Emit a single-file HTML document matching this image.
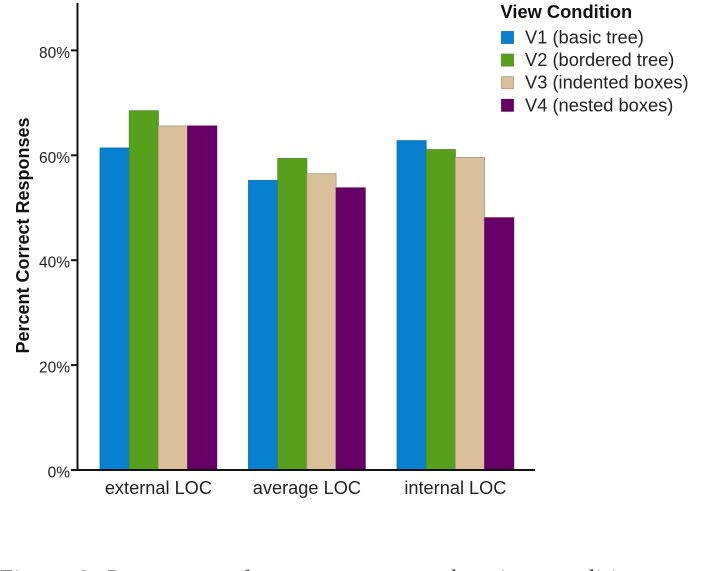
<!DOCTYPE html>
<html lang="en">
<head>
<meta charset="utf-8">
<title>Percent Correct Responses by View Condition</title>
<style>
html,body{margin:0;padding:0;background:#fff;width:707px;height:571px;overflow:hidden}
svg{display:block;font-family:"Liberation Sans",Arial,sans-serif}
</style>
</head>
<body>
<svg id="chart" xmlns="http://www.w3.org/2000/svg" width="707" height="571" viewBox="0 0 707 571">
  <rect width="707" height="571" fill="#fff"/>
  <g id="bars"></g>
  <g id="axes"></g>
  <text transform="translate(29,235.5) rotate(-90)" text-anchor="middle" font-size="18" font-weight="bold" fill="#111">Percent Correct Responses</text>
  <g id="legend"></g>
  <g font-family="'Liberation Serif',serif" font-size="23" fill="#222">
    <text x="0" y="586" word-spacing="4" letter-spacing="1">Figure 6: Percentage of correct responses by view condition</text>
  </g>
</svg>
<script>
const categories = ['external LOC', 'average LOC', 'internal LOC'];
const seriesNames = ['V1 (basic tree)', 'V2 (bordered tree)', 'V3 (indented boxes)', 'V4 (nested boxes)'];
const v1Values = [61.4, 55.2, 62.8];
const v2Values = [68.5, 59.4, 61.1];
const v3Values = [65.6, 56.5, 59.6];
const v4Values = [65.6, 53.8, 48.1];
const yTicks = [0, 20, 40, 60, 80];
const legendTitle = 'View Condition';

const seriesValues = [v1Values, v2Values, v3Values, v4Values];
const fills = ['#0680cf', '#57a01c', '#d9c09b', '#660066'];
const strokes = ['#0b6fb0', '#4f8a24', '#a89a80', '#5a0a5a'];
const NS = 'http://www.w3.org/2000/svg';

function yScale(v) { return 470 - v * 5.245; }
function groupX(i) { return 100 + i * 148.5; }
function barX(i, s) { return groupX(i) + s * 29.2; }

function make(tag, attrs, parent, text) {
  const el = document.createElementNS(NS, tag);
  for (const k in attrs) el.setAttribute(k, attrs[k]);
  if (text !== undefined) el.textContent = text;
  parent.appendChild(el);
  return el;
}

const barsG = document.getElementById('bars');
const axesG = document.getElementById('axes');
const legendG = document.getElementById('legend');

seriesValues.forEach(function (vals, s) {
  vals.forEach(function (v, i) {
    const top = yScale(v);
    const bar = make('rect', {
      x: barX(i, s), y: top, width: 29.2, height: yScale(0) - top,
      fill: fills[s], stroke: strokes[s], 'stroke-width': 0.8
    }, barsG);
    
    
  });
});

const yAxis = make('line', { x1: 77.5, x2: 77.5, y1: 3, y2: 471, stroke: '#111', 'stroke-width': 2 }, axesG);



const xAxis = make('line', { x1: 71, x2: 535, y1: yScale(0), y2: yScale(0), stroke: '#111', 'stroke-width': 2 }, axesG);



yTicks.forEach(function (t) {
  const y = yScale(t);
  const tick = make('line', { x1: 71, x2: 77, y1: y, y2: y, stroke: '#111', 'stroke-width': 2 }, axesG);
  
  
  const label = make('text', { x: 70, y: y + 7.5, 'text-anchor': 'end', 'font-size': 15.5, fill: '#222' }, axesG, t + '%');
  
  
});

categories.forEach(function (c, i) {
  const label = make('text', { x: groupX(i) + 58.4, y: 494, 'text-anchor': 'middle', 'font-size': 18.2, fill: '#222' }, axesG, c);
  
  
});

const title = make('text', { x: 500.5, y: 18, 'font-size': 18.3, 'font-weight': 'bold', fill: '#111' }, legendG, legendTitle);



seriesNames.forEach(function (n, s) {
  const y = 31.5 + s * 22.6;
  const swatch = make('rect', { x: 501.5, y: y, width: 12, height: 12, fill: fills[s], stroke: strokes[s], 'stroke-width': 0.8 }, legendG);
  
  
  const label = make('text', { x: 525, y: y + 12, 'font-size': 18.3, fill: '#222' }, legendG, n);
  
  
});
</script>
</body>
</html>
